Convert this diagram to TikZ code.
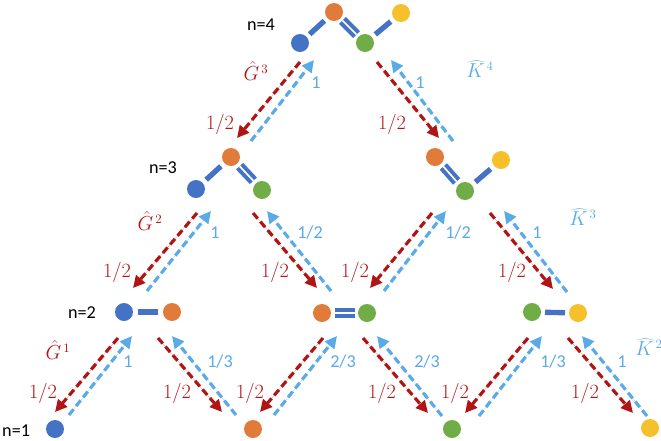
\documentclass[tikz,border=0pt]{standalone}
\usepackage{fontspec}
\setsansfont{Carlito}
\usetikzlibrary{arrows.meta,calc}
\definecolor{ablue}{HTML}{4472C4}
\definecolor{aorange}{HTML}{E07B39}
\definecolor{agreen}{HTML}{70AD47}
\definecolor{ayellow}{HTML}{F5C02C}
\definecolor{dred}{HTML}{B01414}
\definecolor{lblue}{HTML}{5BAAE8}
\tikzset{
  atom/.style={circle,inner sep=0pt,minimum size=0.54cm},
  ab/.style={atom,fill=ablue},
  ao/.style={atom,fill=aorange},
  ag/.style={atom,fill=agreen},
  ay/.style={atom,fill=ayellow},
  sbond/.style={draw=ablue,line width=0.16cm},
  dbond/.style={draw=ablue,line width=0.12cm,double=white,double distance=0.05cm},
  arr/.style={line width=0.095cm,dash pattern=on 0.22cm off 0.12cm,-{Triangle[length=0.36cm,width=0.35cm]}},
  redarr/.style={arr,draw=dred,fill=dred},
  bluearr/.style={arr,draw=lblue,fill=lblue},
  nlab/.style={font=\sffamily\fontsize{15.5}{16}\selectfont},
  rlab/.style={text=dred,font=\fontsize{16}{16}\selectfont},
  blab/.style={text=lblue,font=\sffamily\fontsize{15.5}{16}\selectfont},
  rhat/.style={text=dred,font=\fontsize{16}{16}\selectfont},
  bhat/.style={text=lblue,font=\fontsize{16}{16}\selectfont},
}
\newcommand\mybond[3]{%
  \coordinate (mid) at ($(#2)!0.5!(#3)$);
  \draw[#1] ($(mid)!0.3cm!(#2)$) -- ($(mid)!0.3cm!(#3)$);}
\newcommand\apair[2]{%
  \draw[redarr] (#1) -- (#2);
  \draw[bluearr] ([shift={(14,3)}]#2) -- ([shift={(14,-2)}]#1);}
\begin{document}
\begin{tikzpicture}[x=0.03cm,y=-0.03cm]
\useasboundingbox (0,0) rectangle (661,440);
% atoms n=4
\node[ab] (b4) at (300,43) {};
\node[ao] (o4) at (334,12) {};
\node[ag] (g4) at (365,43) {};
\node[ay] (y4) at (401,13) {};
\mybond{sbond}{b4}{o4}
\mybond{dbond}{o4}{g4}
\mybond{sbond}{g4}{y4}
% n=3
\node[ao] (o3a) at (231,157) {};
\node[ab] (b3a) at (196,189) {};
\node[ag] (g3a) at (262,190) {};
\mybond{sbond}{b3a}{o3a}
\mybond{dbond}{o3a}{g3a}
\node[ao] (o3b) at (435,157) {};
\node[ag] (g3b) at (465,191) {};
\node[ay] (y3b) at (501,160) {};
\mybond{dbond}{o3b}{g3b}
\mybond{sbond}{g3b}{y3b}
% n=2
\node[ab] (b2a) at (124,312) {};
\node[ao] (o2a) at (172,312) {};
\mybond{sbond}{b2a}{o2a}
\node[ao] (o2b) at (322,313) {};
\node[ag] (g2b) at (367,313) {};
\mybond{dbond}{o2b}{g2b}
\node[ag] (g2c) at (532,312) {};
\node[ay] (y2c) at (578,313) {};
\mybond{sbond}{g2c}{y2c}
% n=1
\node[ab] (b1) at (55,429) {};
\node[ao] (o1) at (253,429) {};
\node[ag] (g1) at (452,429) {};
\node[ay] (y1) at (650,428) {};
% level labels
\node[nlab] (l4) at (261,25) {n=4};
\node[nlab] (l3) at (163,168) {n=3};
\node[nlab] (l2) at (82,313) {n=2};
\node[nlab,anchor=west,inner xsep=0pt] (l1) at (2,431) {n=1};
% arrow end points
\coordinate (p1s) at (300,62);  \coordinate (p1e) at (237,138);
\coordinate (p2s) at (377,62);  \coordinate (p2e) at (439,138);
\coordinate (p3s) at (197,213); \coordinate (p3e) at (133,288);
\coordinate (p4s) at (253,213); \coordinate (p4e) at (317,288);
\coordinate (p5s) at (432,213); \coordinate (p5e) at (370,288);
\coordinate (p6s) at (490,213); \coordinate (p6e) at (553,289);
\coordinate (p7s) at (118,338); \coordinate (p7e) at (55,412);
\coordinate (p8s) at (158,338); \coordinate (p8e) at (222,412);
\coordinate (p9s) at (323,338); \coordinate (p9e) at (260,412);
\coordinate (p10s) at (363,338); \coordinate (p10e) at (428,413);
\coordinate (p11s) at (528,338); \coordinate (p11e) at (465,413);
\coordinate (p12s) at (568,338); \coordinate (p12e) at (633,413);
\apair{p1s}{p1e}
\apair{p2s}{p2e}
\apair{p3s}{p3e}
\apair{p4s}{p4e}
\apair{p5s}{p5e}
\apair{p6s}{p6e}
\apair{p7s}{p7e}
\apair{p8s}{p8e}
\apair{p9s}{p9e}
\apair{p10s}{p10e}
\apair{p11s}{p11e}
\apair{p12s}{p12e}
% labels row 1
\node[rhat] (h3) at (256,71) {$\hat{G}^{\,3}$};
\node[bhat] (k4) at (480,69) {$\widehat{K}^{\,4}$};
\node[blab] (t1) at (316,83) {1};
\node[blab] (t2) at (420,83) {1};
\node[rlab] (t3) at (220,124) {$1/2$};
\node[rlab] (t4) at (392,124) {$1/2$};
% labels row 2
\node[rhat] (h2) at (150,221) {$\hat{G}^{\,2}$};
\node[bhat] (k3) at (583,217) {$\widehat{K}^{\,3}$};
\node[blab] (t5) at (215,233) {1};
\node[blab] (t6) at (310,233) {1/2};
\node[blab] (t7) at (458,233) {1/2};
\node[blab] (t8) at (537,233) {1};
\node[rlab] (t9) at (117,272) {$1/2$};
\node[rlab] (t10) at (275,272) {$1/2$};
\node[rlab] (t11) at (355,272) {$1/2$};
\node[rlab] (t12) at (512,272) {$1/2$};
% labels row 3
\node[rhat] (h1) at (58,350) {$\hat{G}^{\,1}$};
\node[bhat] (k2) at (649,347) {$\widehat{K}^{\,2}$};
\node[blab] (t13) at (128,362) {1};
\node[blab] (t14) at (220,362) {1/3};
\node[blab] (t15) at (343,362) {2/3};
\node[blab] (t16) at (427,362) {2/3};
\node[blab] (t17) at (553,362) {1/3};
\node[blab] (t18) at (622,362) {1};
\node[rlab] (t19) at (43,393) {$1/2$};
\node[rlab] (t20) at (177,393) {$1/2$};
\node[rlab] (t21) at (250,393) {$1/2$};
\node[rlab] (t22) at (382,393) {$1/2$};
\node[rlab] (t23) at (455,393) {$1/2$};
\node[rlab] (t24) at (585,393) {$1/2$};
\end{tikzpicture}
\end{document}
